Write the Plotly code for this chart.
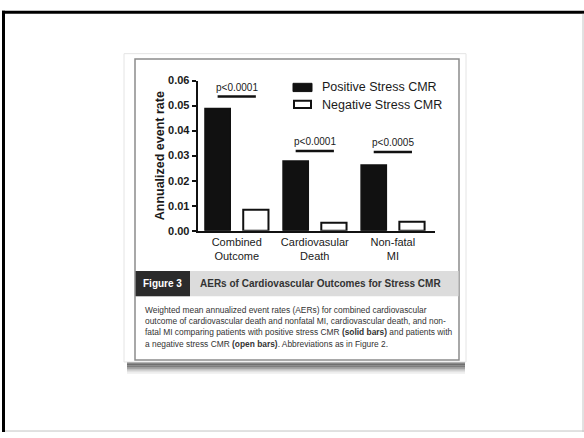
import plotly.graph_objects as go

# ---- data ----
categories = ["Combined<br>Outcome", "Cardiovasular<br>Death", "Non-fatal<br>MI"]
positive_cmr = [0.0488, 0.0279, 0.0263]
negative_cmr = [0.0084, 0.0032, 0.0036]
p_labels = ["p<0.0001", "p<0.0001", "p<0.0005"]
p_bar_heights = [0.0536, 0.0319, 0.0315]
y_ticks = [0.00, 0.01, 0.02, 0.03, 0.04, 0.05, 0.06]
y_tick_labels = ["0.00", "0.01", "0.02", "0.03", "0.04", "0.05", "0.06"]

W, H = 584, 438
FONT = "Arial, Liberation Sans, Helvetica, sans-serif"


def px(x):
    return x / W


def py(y):
    return 1 - y / H


fig = go.Figure()
fig.add_trace(go.Bar(
    x=categories, y=positive_cmr, name="Positive Stress CMR",
    marker=dict(color="#111111", line=dict(color="#111111", width=1.5)),
    showlegend=False,
))
fig.add_trace(go.Bar(
    x=categories, y=negative_cmr, name="Negative Stress CMR",
    marker=dict(color="white", line=dict(color="#111111", width=2)),
    showlegend=False,
))

shapes = []
annotations = []

# slide frame
shapes += [
    dict(type="rect", xref="paper", yref="paper", x0=px(2), x1=px(584), y0=py(5), y1=py(8),
         fillcolor="black", line=dict(width=0), layer="below"),
    dict(type="rect", xref="paper", yref="paper", x0=px(2), x1=px(5), y0=py(5), y1=py(438),
         fillcolor="black", line=dict(width=0), layer="below"),
    dict(type="line", xref="paper", yref="paper", x0=px(583), x1=px(583), y0=py(8), y1=py(438),
         line=dict(color="#c4c4c4", width=1), layer="below"),
    dict(type="line", xref="paper", yref="paper", x0=px(5), x1=px(584), y0=py(437), y1=py(437),
         line=dict(color="#c4c4c4", width=1), layer="below"),
]

# card drop shadow
for y0, col in [(366, "#8a8a8a"), (368, "#6f6f6f"), (370, "#7d7d7d"), (372, "#a5a5a5"), (374, "#d2d2d2"), (376, "#eeeeee")]:
    shapes.append(dict(type="rect", xref="paper", yref="paper", x0=px(127), x1=px(465),
                       y0=py(y0 + 2), y1=py(y0), fillcolor=col, line=dict(width=0), layer="below"))

# card body and inner frame
shapes += [
    dict(type="rect", xref="paper", yref="paper", x0=px(124), x1=px(466), y0=py(366), y1=py(49),
         fillcolor="white", line=dict(color="#e4e4e4", width=1), layer="below"),
    dict(type="rect", xref="paper", yref="paper", x0=px(135), x1=px(459), y0=py(364), y1=py(54.5),
         fillcolor="white", line=dict(color="#8c8c8c", width=1.5), layer="below"),
    dict(type="rect", xref="paper", yref="paper", x0=px(135.5), x1=px(458.5), y0=py(298.5), y1=py(272.5),
         fillcolor="#dcdcdc", line=dict(width=0), layer="below"),
    dict(type="rect", xref="paper", yref="paper", x0=px(135.5), x1=px(190), y0=py(298.5), y1=py(272.5),
         fillcolor="#2b2b2b", line=dict(width=0), layer="below"),
]

# legend swatches
shapes += [
    dict(type="rect", xref="paper", yref="paper", x0=px(293), x1=px(312), y0=py(88), y1=py(79.5),
         fillcolor="#111111", line=dict(color="#111111", width=1)),
    dict(type="rect", xref="paper", yref="paper", x0=px(294), x1=px(311), y0=py(105), y1=py(97.5),
         fillcolor="white", line=dict(color="#111111", width=2)),
]
annotations += [
    dict(xref="paper", yref="paper", x=px(320.5), y=py(83.5), text="Positive Stress CMR",
         showarrow=False, xanchor="left", yanchor="middle",
         font=dict(family=FONT, size=12.5, color="#1a1a1a")),
    dict(xref="paper", yref="paper", x=px(320.5), y=py(101.5), text="Negative Stress CMR",
         showarrow=False, xanchor="left", yanchor="middle",
         font=dict(family=FONT, size=12.5, color="#1a1a1a")),
]

# significance brackets between paired bars
for i, (lab, h) in enumerate(zip(p_labels, p_bar_heights)):
    shapes.append(dict(type="line", xref="x", yref="y", x0=i - 0.245, x1=i + 0.245, y0=h, y1=h,
                       line=dict(color="#111111", width=2.5)))
    annotations.append(dict(xref="x", yref="y", x=i, y=h, yshift=9, text=lab, showarrow=False,
                            xanchor="center", yanchor="middle",
                            font=dict(family=FONT, size=10, color="#1a1a1a")))

# y-axis title
annotations.append(dict(xref="paper", yref="paper", x=px(159.5), y=py(154), text="Annualized event rate",
                        textangle=-90, showarrow=False, xanchor="center", yanchor="middle",
                        font=dict(family=FONT, size=12.5, color="#1a1a1a", weight="bold")))

# figure caption band
annotations += [
    dict(xref="paper", yref="paper", x=px(162.5), y=py(285.5), text="Figure 3", showarrow=False,
         xanchor="center", yanchor="middle", font=dict(family=FONT, size=10, color="white", weight="bold")),
    dict(xref="paper", yref="paper", x=px(198), y=py(285.5), text="AERs of Cardiovascular Outcomes for Stress CMR",
         showarrow=False, xanchor="left", yanchor="middle",
         font=dict(family=FONT, size=10, color="#333333", weight="bold")),
]

caption_lines = [
    "Weighted mean annualized event rates (AERs) for combined cardiovascular",
    "outcome of cardiovascular death and nonfatal MI, cardiovascular death, and non-",
    "fatal MI comparing patients with positive stress CMR <b>(solid bars)</b> and patients with",
    "a negative stress CMR <b>(open bars)</b>. Abbreviations as in Figure 2.",
]
for line, yy in zip(caption_lines, [312.7, 323.6, 335.2, 347.2]):
    annotations.append(dict(xref="paper", yref="paper", x=px(143), y=py(yy), text=line, showarrow=False,
                            xanchor="left", yanchor="middle",
                            font=dict(family=FONT, size=8.4, color="#333333")))

fig.update_layout(
    width=W, height=H,
    margin=dict(l=0, r=0, t=0, b=0),
    paper_bgcolor="white", plot_bgcolor="rgba(0,0,0,0)",
    barmode="group", bargap=0.02, bargroupgap=0.34,
    shapes=shapes, annotations=annotations,
    showlegend=False,
    xaxis=dict(
        domain=[px(197.7), px(435)], range=[-0.5, 2.54],
        showline=True, linecolor="#111111", linewidth=2, ticks="",
        showgrid=False, zeroline=False,
        tickfont=dict(family=FONT, size=11, color="#1a1a1a"),
    ),
    yaxis=dict(
        domain=[py(231), py(76.7)], range=[0, 0.06],
        showline=True, linecolor="#111111", linewidth=2,
        ticks="outside", ticklen=4, tickwidth=2, tickcolor="#111111",
        tickvals=y_ticks, ticktext=y_tick_labels,
        showgrid=False, zeroline=False,
        tickfont=dict(family=FONT, size=11, color="#1a1a1a", weight="bold"),
    ),
)

fig.write_html("out.html")
